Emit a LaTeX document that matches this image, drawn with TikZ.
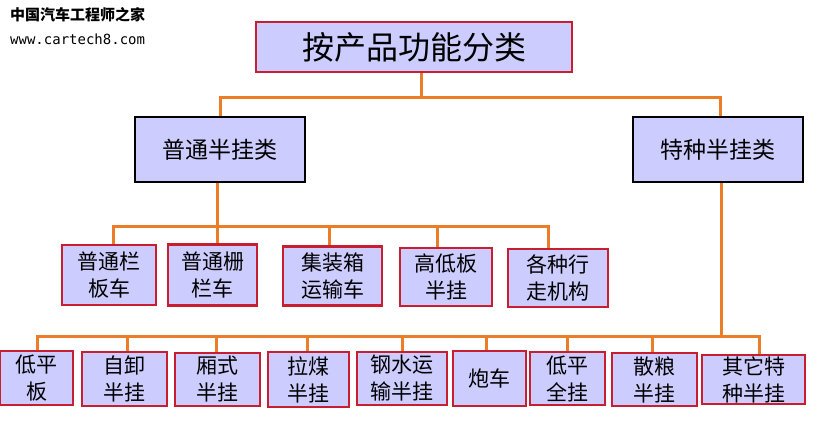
\documentclass[tikz,border=0pt]{standalone}
\usepackage{fontspec}
\usetikzlibrary{backgrounds}
\newfontfamily\cjk{Noto Sans CJK SC}
\newfontfamily\monofont{DejaVu Sans Mono}
\definecolor{boxfill}{RGB}{204,204,255}
\definecolor{boxred}{RGB}{200,30,50}
\definecolor{linkorange}{RGB}{236,125,40}
\begin{document}
\begin{tikzpicture}[x=1pt,y=-1pt,
    cat/.style={draw=boxred, line width=2.5pt, fill=boxfill, inner sep=0pt, align=center},
    sub/.style={draw=black, line width=2pt, fill=boxfill, inner sep=0pt, minimum width=170pt, minimum height=65pt, font=\fontsize{23}{27}\selectfont\cjk},
    leaf/.style={cat, font=\fontsize{21}{27}\selectfont\cjk},
    link/.style={linkorange, line width=3pt}]
    \useasboundingbox (0,0) rectangle (818,446);

    % watermark
    \node[anchor=west, inner sep=0pt, font=\fontsize{15}{15}\selectfont\cjk\bfseries] (wm1) at (10,15) {中国汽车工程师之家};
    \node[anchor=west, inner sep=0pt, font=\fontsize{14}{14}\selectfont\monofont] (wm2) at (10,39) {www.cartech8.com};

    % root and the two groups
    \node[cat, minimum width=316pt, minimum height=50pt, font=\fontsize{32}{32}\selectfont\cjk] (root) at (414,47) {按产品功能分类};
    \node[sub] (pt) at (219.5,150) {普通半挂类};
    \node[sub] (ts) at (718,150) {特种半挂类};

    % ordinary trailers
    \node[leaf, minimum width=94pt, minimum height=60pt] (c1) at (109,275) {普通栏\\板车};
    \node[leaf, minimum width=89pt, minimum height=61pt] (c2) at (212.5,275) {普通栅\\栏车};
    \node[leaf, minimum width=99pt, minimum height=59pt] (c3) at (332.5,276) {集装箱\\运输车};
    \node[leaf, minimum width=92pt, minimum height=58pt] (c4) at (446,277) {高低板\\半挂};
    \node[leaf, minimum width=100pt, minimum height=58pt] (c5) at (558,278) {各种行\\走机构};

    % special trailers
    \node[leaf, minimum width=73pt, minimum height=54pt] (d1) at (36.5,378) {低平\\板};
    \node[leaf, minimum width=85pt, minimum height=54pt] (d2) at (124.5,379) {自卸\\半挂};
    \node[leaf, minimum width=85pt, minimum height=53pt] (d3) at (217.5,379.5) {厢式\\半挂};
    \node[leaf, minimum width=81pt, minimum height=55pt] (d4) at (308.5,379.5) {拉煤\\半挂};
    \node[leaf, minimum width=90pt, minimum height=53pt] (d5) at (402,378.5) {钢水运\\输半挂};
    \node[leaf, minimum width=73pt, minimum height=55pt] (d6) at (489.5,378.5) {炮车};
    \node[leaf, minimum width=75pt, minimum height=53pt] (d7) at (567.5,378.5) {低平\\全挂};
    \node[leaf, minimum width=85pt, minimum height=53pt] (d8) at (654.5,379.5) {散粮\\半挂};
    \node[leaf, minimum width=103pt, minimum height=49pt] (d9) at (753.5,379.5) {其它特\\种半挂};

    % connectors, behind the boxes
    \begin{scope}[on background layer]
    \foreach \g/\dx in {pt/0.5,ts/2}
        \draw[link] ([xshift=7pt]root.south) -- ++(0,24) -| ([xshift=\dx pt]\g.north);
    \foreach \c/\dx in {c1/4,c2/4.5,c3/-3.5,c4/-9,c5/-10}
        \draw[link] ([xshift=-2.5pt]pt.south) -- ++(0,43) -| ([xshift=\dx pt]\c.north);
    \foreach \d/\dx in {d1/0.5,d2/2.5,d3/-1.5,d4/-1.5,d5/0,d6/-3.5,d7/0,d8/-2.5,d9/5.5}
        \draw[link] ([xshift=3pt]ts.south) -- ++(0,153) -| ([xshift=\dx pt]\d.north);
    \end{scope}
\end{tikzpicture}
\end{document}
